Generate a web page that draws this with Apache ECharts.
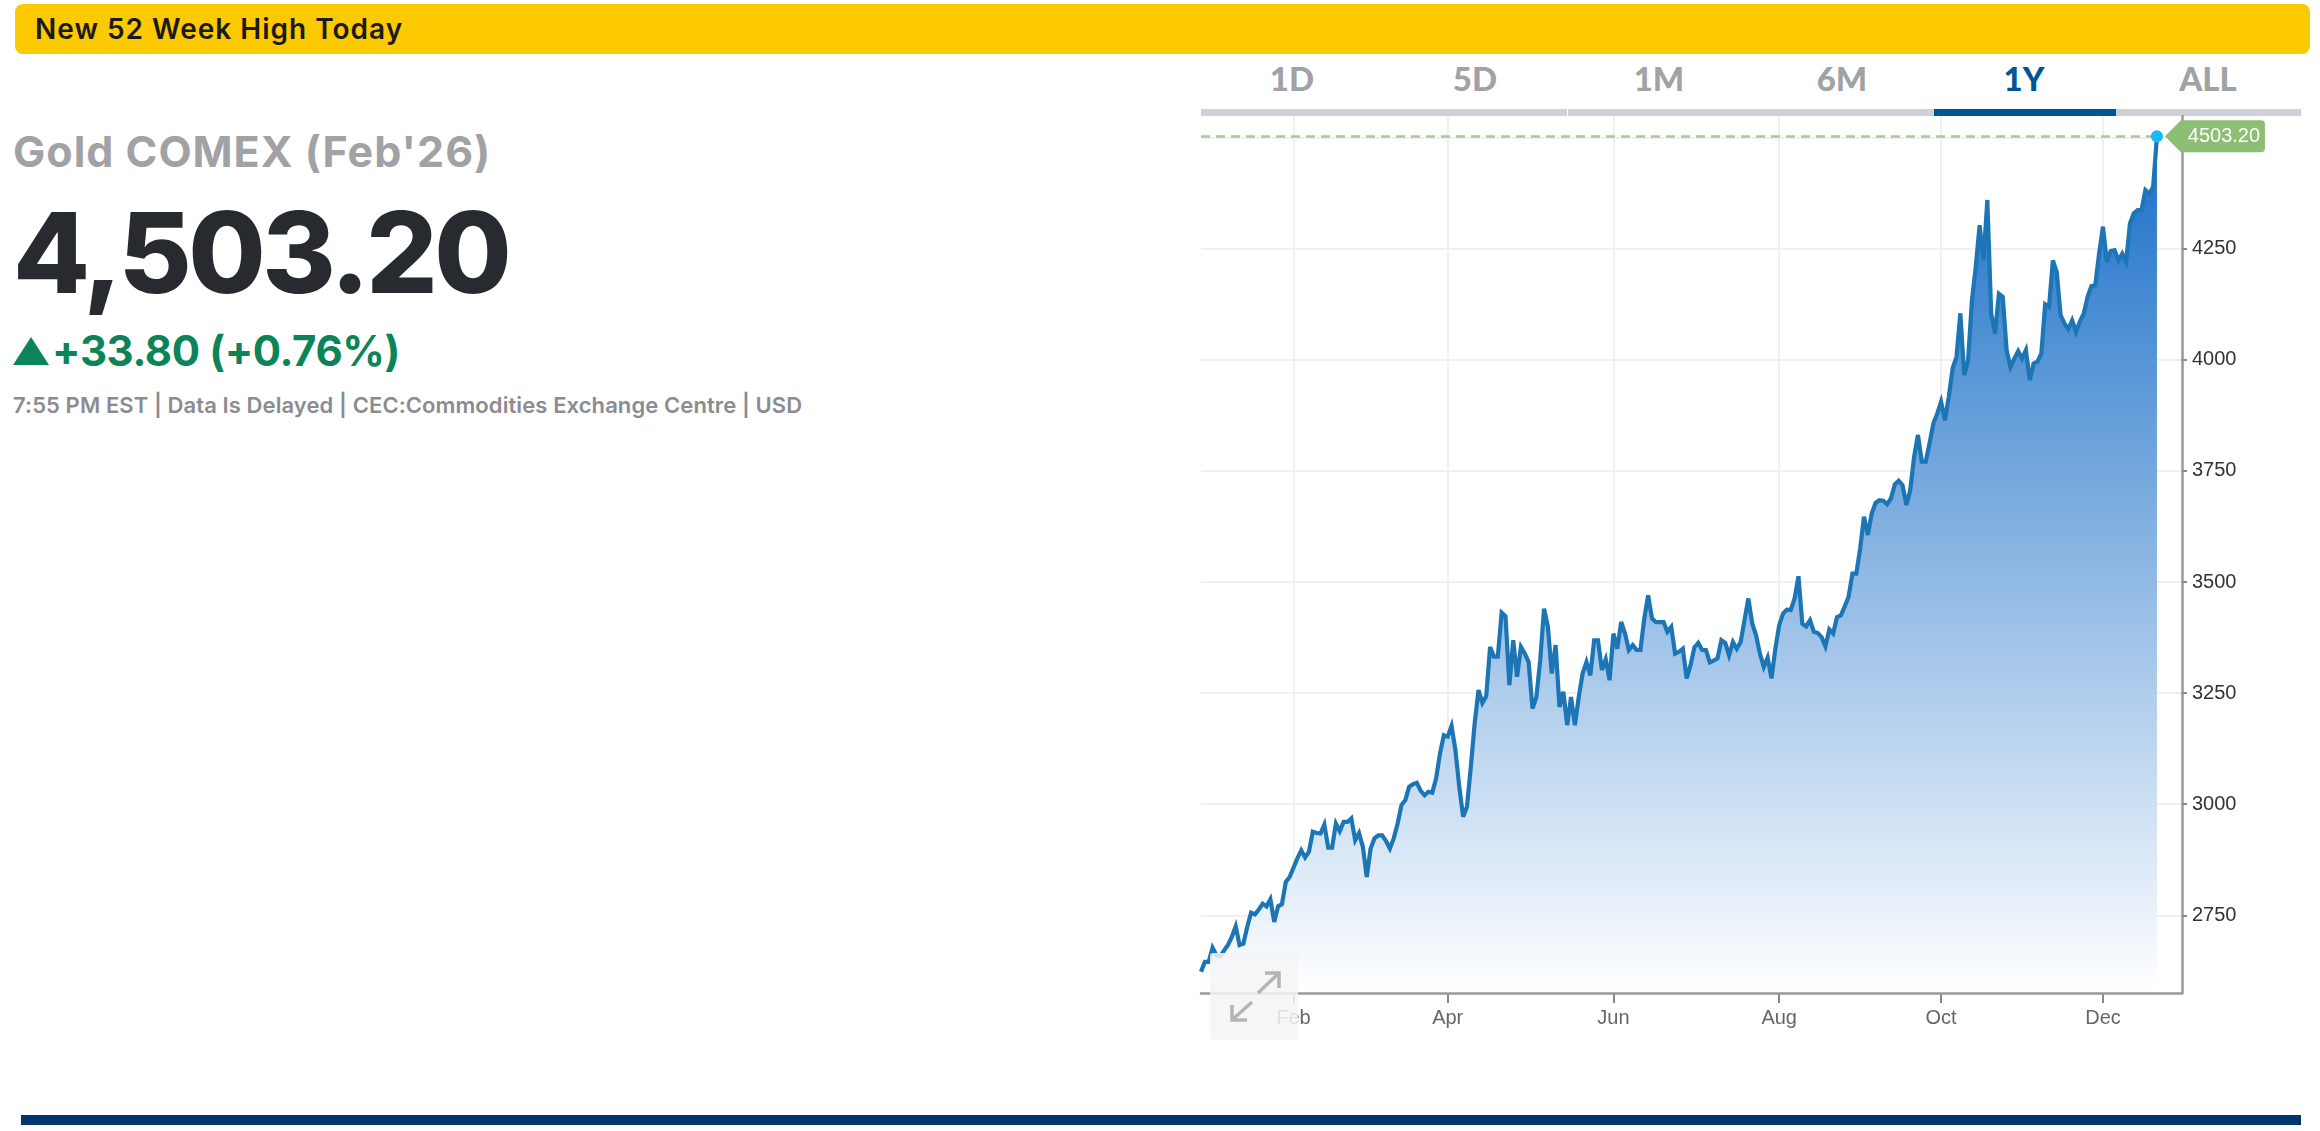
<!DOCTYPE html>
<html><head><meta charset="utf-8">
<script src="https://cdn.jsdelivr.net/npm/echarts@6/dist/echarts.min.js"></script>
<style>
html,body{margin:0;padding:0;background:#fff;width:2320px;height:1131px;overflow:hidden;font-family:Inter,Lato,sans-serif}
.a{position:absolute;white-space:nowrap}
#chart{position:absolute;left:0;top:0;width:2320px;height:1131px}
.tab{position:absolute;top:58px;width:120px;margin-left:-60px;text-align:center;font-family:Lato;font-size:33px;font-weight:900;color:#a0a2a6;line-height:40px}
.bar{position:absolute;top:109px;height:7px;background:#cfd0d8}
</style></head><body>
<div class="a" style="left:15px;top:4px;width:2295px;height:50px;background:#fdc900;border-radius:8px"></div>
<div class="a" style="left:35px;top:10px;font-size:28px;font-weight:600;color:#1a1a1a;line-height:38px;letter-spacing:1px">New 52 Week High Today</div>
<div class="a" style="left:13px;top:125px;font-size:43px;font-weight:700;color:#a0a2a6;line-height:52px;letter-spacing:1px" id="title">Gold COMEX (Feb'26)</div>
<div class="a" style="left:13px;top:182px;font-size:112px;font-weight:800;color:#272b30;line-height:140px;letter-spacing:-3.4px" id="price">4,503.20</div>
<div class="a" style="left:13px;top:337px;width:0;height:0;border-left:18px solid transparent;border-right:18px solid transparent;border-bottom:28px solid #0b8457"></div>
<div class="a" style="left:52px;top:325px;font-size:42px;font-weight:700;color:#0b8457;line-height:52px;letter-spacing:-.4px" id="chg">+33.80 (+0.76%)</div>
<div class="a" style="left:13px;top:390px;font-size:22px;font-weight:600;color:#8a8c91;line-height:30px;letter-spacing:.09px" id="sub">7:55 PM EST | Data Is Delayed | CEC:Commodities Exchange Centre | USD</div>
<div class="tab" style="left:1292px">1D</div>
<div class="tab" style="left:1475px">5D</div>
<div class="tab" style="left:1659px">1M</div>
<div class="tab" style="left:1842px">6M</div>
<div class="tab" style="left:2024px;color:#005594">1Y</div>
<div class="tab" style="left:2208px">ALL</div>
<div class="bar" style="left:1201px;width:366px"></div>
<div class="bar" style="left:1568px;width:366px"></div>
<div class="bar" style="left:1934px;width:182px;background:#005594"></div>
<div class="bar" style="left:2116px;width:185px"></div>
<div id="chart"></div>
<div class="a" style="left:1210px;top:953px;width:88px;height:87px;background:rgba(244,244,247,.85);border-radius:3px"></div>
<svg class="a" style="left:1210px;top:953px" width="88" height="87" viewBox="0 0 88 87" fill="none" stroke="#b4b4b6" stroke-width="3.5">
<path d="M48 40 L69 20 M55 20 H69 V35 M42 49 L22 67 M22 52 V67 H37"/></svg>
<div class="a" style="left:21px;top:1115px;width:2280px;height:10px;background:#00356e"></div>
<script>
const prices = [
2623,2645,2645,2677,2660,2658,2671,2683,2701,2725,
2683,2686,2724,2756,2752,2763,2776,2770,2786,2735,
2770,2775,2825,2836,2857,2878,2896,2880,2893,2938,
2935,2934,2954,2902,2902,2956,2939,2960,2960,2968,
2919,2935,2904,2836,2900,2923,2930,2930,2917,2900,
2923,2956,2998,3009,3039,3045,3048,3030,3020,3028,
3026,3058,3114,3155,3152,3176,3122,3039,2972,2994,
3084,3182,3257,3228,3243,3354,3332,3332,3431,3423,
3268,3369,3287,3354,3339,3320,3215,3241,3324,3440,
3399,3294,3358,3219,3253,3178,3241,3178,3241,3294,
3320,3290,3369,3369,3302,3326,3279,3384,3350,3410,
3384,3347,3358,3347,3347,3418,3470,3418,3410,3410,
3410,3388,3399,3339,3343,3350,3283,3313,3353,3363,
3347,3347,3319,3323,3328,3369,3363,3335,3365,3350,
3365,3414,3463,3407,3380,3339,3309,3330,3283,3350,
3403,3429,3438,3437,3463,3513,3406,3400,3414,3388,
3385,3376,3355,3393,3384,3421,3425,3445,3467,3519,
3519,3575,3647,3606,3654,3678,3684,3683,3675,3688,
3720,3728,3718,3673,3707,3782,3831,3771,3771,3812,
3857,3879,3906,3864,3917,3981,4007,4105,3966,3999,
4134,4210,4303,4224,4360,4104,4059,4149,4142,4022,
3984,4003,4020,4003,4022,3955,3992,3996,4014,4125,
4119,4224,4198,4101,4082,4069,4089,4063,4086,4104,
4142,4166,4168,4240,4300,4221,4245,4247,4224,4239,
4221,4307,4330,4337,4337,4382,4374,4389,4503.2];
const monthNames = ['Feb','Apr','Jun','Aug','Oct','Dec'];
const monthPositions = [24,64,107,150,192,234];
const priceTicks = [2750,3000,3250,3500,3750,4000,4250,4500];
const priceLabels = [2750,3000,3250,3500,3750,4000,4250];
const lastIndex = prices.length - 1, lastPrice = prices[lastIndex];

const chart = echarts.init(document.getElementById('chart'));
chart.setOption({
  animation:false,
  grid:{left:1201,right:138,top:116,bottom:138,containLabel:false},
  xAxis:[{type:'value',min:0,max:254.5,
    axisLine:{show:false,onZero:false},
    axisTick:{show:true,length:10,lineStyle:{color:'#888',width:2},customValues:monthPositions},
    axisLabel:{show:true,customValues:monthPositions,margin:15,color:'#666',fontSize:20,fontFamily:'Liberation Sans',
      formatter:v=>monthNames[monthPositions.indexOf(v)]||''},
    splitLine:{show:true,lineStyle:{color:'#f0f0f0',width:2}}},
   {type:'value',position:'bottom',min:0,max:254.5,z:5,
    axisLine:{show:true,onZero:false,lineStyle:{color:'#999',width:2.5}},
    axisTick:{show:false},axisLabel:{show:false},splitLine:{show:false}}],
  yAxis:{type:'value',position:'right',min:2575,max:4549,
    axisLine:{show:true,onZero:false,lineStyle:{color:'#999',width:2.5}},
    axisTick:{show:true,length:5,lineStyle:{color:'#888',width:2},customValues:priceTicks},
    axisLabel:{show:true,customValues:priceLabels,margin:10,color:'#333',fontSize:20,fontFamily:'Liberation Sans',
      formatter:v=>String(v)},
    splitLine:{show:true,lineStyle:{color:'#f0f0f0',width:2}}},
  series:[{type:'line',data:prices.map((p,i)=>[i,p]),showSymbol:false,smooth:false,clip:false,
    lineStyle:{color:'#1c76b6',width:4.2,join:'miter',miterLimit:4},
    areaStyle:{opacity:1,color:new echarts.graphic.LinearGradient(0,0,0,1,[{offset:0,color:'#1a6fc8'},{offset:1,color:'#ffffff'}])},
    markLine:{silent:true,symbol:'none',label:{show:false},
      lineStyle:{color:'#9fcf8a',type:[9,6],width:2.5},
      data:[[{coord:[0,lastPrice]},{coord:[lastIndex,lastPrice]}]]},
    markPoint:{silent:true,data:[
      {coord:[lastIndex,lastPrice],symbol:'path://M0 16 L16 0 H96 Q100 0 100 4 V28 Q100 32 96 32 H16 Z',
       symbolSize:[100,32],symbolOffset:[58,0],symbolKeepAspect:false,
       itemStyle:{color:'#8cbf74'},
       label:{show:true,position:'inside',offset:[9,0],formatter:lastPrice.toFixed(2),color:'#fff',fontSize:20,fontFamily:'Liberation Sans'}},
      {coord:[lastIndex,lastPrice],symbol:'circle',symbolSize:12,itemStyle:{color:'#1ab8fa'},label:{show:false}}
    ]}
  }]
});
</script>
</body></html>
